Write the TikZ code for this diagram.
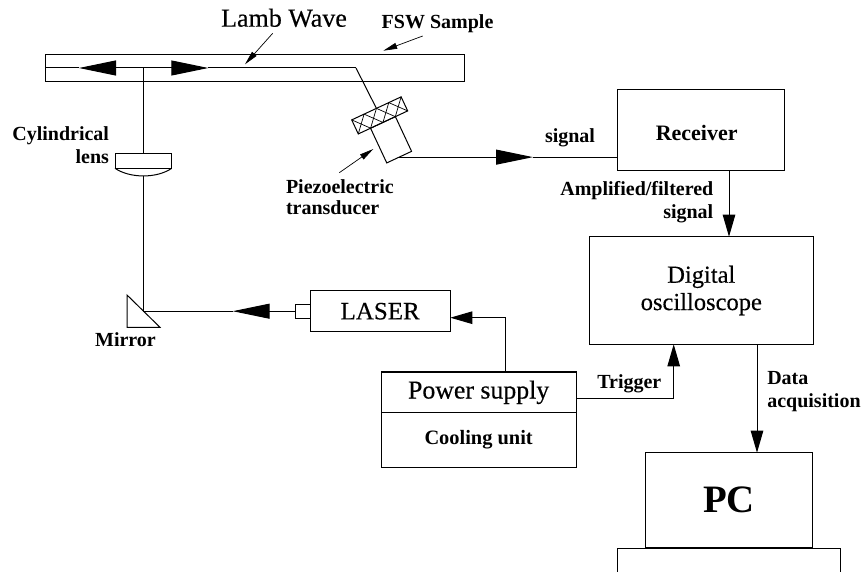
\documentclass[tikz,border=0pt]{standalone}
\usepackage{fontspec}
\setmainfont{Liberation Serif}
\newfontfamily\heavyfont[FakeBold=0.35]{Liberation Serif}
\usetikzlibrary{arrows.meta,calc,positioning}

\begin{document}
\begin{tikzpicture}
  [x=1pt,y=-1pt,line width=1pt,
   boxnode/.style={draw,rectangle,inner sep=0pt,outer sep=0pt,align=center},
   tiltnode/.style={boxnode,rotate=25},
   boldlabel/.style={inner sep=0pt,outer sep=0pt,font=\bfseries\fontsize{20}{23}\selectfont},
   beamtip/.style={-{Triangle[length=37pt,width=15pt]}},
   wiretip/.style={-{Triangle[length=22pt,width=12.5pt]}},
   pointtip/.style={line width=.7pt,-{Triangle[length=14pt,width=6pt]}}]
  \useasboundingbox (0,0) rectangle (863,572);

  % boxes
  \node[boxnode,minimum width=418.6pt,minimum height=27.4pt] (sample) at (255,68) {};
  \node[boxnode,minimum width=167pt,minimum height=81pt] (receiver) at (700.8,130.5) {};
  \node[boxnode,minimum width=223.7pt,minimum height=107.6pt,font=\heavyfont\fontsize{24.5}{27.3}\selectfont] (scope) at (701.3,290.5) {Digital\\oscilloscope};
  \node[boxnode,minimum width=140.3pt,minimum height=41pt,font=\heavyfont\fontsize{25}{28}\selectfont] (laser) at (380.15,311.2) {LASER};
  \node[boxnode,minimum width=14.3pt,minimum height=13.7pt,left=0pt of laser] (stub) {};
  \node[boxnode,minimum width=195.3pt,minimum height=40.7pt,font=\heavyfont\fontsize{25.8}{28}\selectfont] (power) at (478.65,392.35) {Power supply};
  \node[boxnode,minimum width=195.3pt,minimum height=54.6pt,below=0pt of power,font=\bfseries\fontsize{20.4}{23}\selectfont] (cooling) {Cooling unit};
  \node[boxnode,minimum width=166.6pt,minimum height=95.3pt,font=\bfseries\fontsize{38.8}{42}\selectfont] (pc) at (729,500.3) {PC};
  \node[boxnode,minimum width=56.7pt,minimum height=14.3pt] (lens) at (143.35,161.15) {};

  % transducer
  \node[tiltnode,minimum width=54.5pt,minimum height=15.5pt] (hatch) at (379.7,115.4) {};
  \node[tiltnode,minimum width=27.4pt,minimum height=38.3pt,anchor=north] (piezo) at (hatch.south) {};
  \foreach \a/\b in {0/.25,.25/0,.25/.5,.5/.25,.5/.75,.75/.5,.75/1,1/.75}
    \draw[line width=.7pt] ($(hatch.south west)!\a!(hatch.south east)$) -- ($(hatch.north west)!\b!(hatch.north east)$);

  % points on the paths
  \coordinate (split) at (143.35,68);
  \coordinate (lefttip) at (79,68);
  \coordinate (righttip) at (208.3,68);
  \coordinate (bend) at (356,68);
  \coordinate (lensend) at (143.35,176);
  \coordinate (mirrora) at (127,295);
  \coordinate (mirrorb) at (127,327.3);
  \coordinate (mirrorc) at (160,327.3);
  \coordinate (mirrorhit) at (143.35,311.2);
  \coordinate (lasertip) at (232.7,311.2);
  \coordinate (signaltip) at (533,0 |- piezo.south);
  \coordinate (signalend) at (receiver.west |- piezo.south);
  \coordinate (ampout) at (729,171);
  \coordinate (ampin) at (729,236.7);
  \coordinate (dataout) at (757,344.3);
  \coordinate (datain) at (757,452.7);
  \coordinate (trigout) at (576.3,398.7);
  \coordinate (trigin) at (673.7,344.3);
  \coordinate (powerout) at (505.7,372);
  \coordinate (powerin) at (450.3,317.7);

  % beam and wires
  \foreach \from/\to in {lefttip/sample.west,righttip/bend,bend/hatch.north,split/lens.north,lensend/mirrorhit,signaltip/signalend,lasertip/mirrorhit}
    \draw (\from) -- (\to);
  \foreach \from/\to in {split/lefttip,split/righttip,stub.west/lasertip,piezo.south/signaltip}
    \draw[beamtip] (\from) -- (\to);
  \foreach \from/\to in {ampout/ampin,dataout/datain}
    \draw[wiretip] (\from) -- (\to);
  \draw[wiretip] (powerout) |- (powerin);
  \draw[wiretip] (trigout) -| (trigin);

  % lens, mirror and the base under the PC
  \draw (lens.south west) .. controls (130,178.5) and (157,178.5) .. (lens.south east);
  \draw (mirrora) -- (mirrorb) -- (mirrorc) -- cycle;
  \draw (617.3,572) -- (617.3,548) -- (840.7,548) -- (840.7,572);

  % pointers
  \coordinate (lambfrom) at (272.7,33.3);
  \coordinate (lambto) at (245,64.3);
  \coordinate (fswfrom) at (422.7,36);
  \coordinate (fswto) at (383.3,50.7);
  \coordinate (piezofrom) at (339.3,172.7);
  \coordinate (piezoto) at (373.3,149);
  \foreach \from/\to in {lambfrom/lambto,fswfrom/fswto,piezofrom/piezoto}
    \draw[pointtip] (\from) -- (\to);

  % labels
  \node[inner sep=0pt,anchor=base,font=\heavyfont\fontsize{26}{28}\selectfont] (lamblabel) at (284,26.7) {Lamb Wave};
  \node[inner sep=0pt,anchor=base,font=\bfseries\fontsize{22}{25}\selectfont] (receiverlabel) at (696.7,141) {Receiver};
  \node[boldlabel,anchor=base west] (fswlabel) at (381.7,28.3) {FSW Sample};
  \node[boldlabel,anchor=base east] (cyllabel) at (109,140.7) {Cylindrical};
  \node[boldlabel,anchor=base east] (lenslabel) at (109,163.3) {lens};
  \node[boldlabel,anchor=base west] (piezolabel) at (286,193.3) {Piezoelectric};
  \node[boldlabel,anchor=base west] (translabel) at (286,215) {transducer};
  \node[boldlabel,anchor=base west] (signallabel) at (545,142.3) {signal};
  \node[boldlabel,anchor=base east] (amplabel) at (713.3,195.7) {Amplified/filtered};
  \node[boldlabel,anchor=base east] (amplabelb) at (713.3,218.3) {signal};
  \node[boldlabel,anchor=base] (mirrorlabel) at (125.5,346.7) {Mirror};
  \node[boldlabel,anchor=base west] (triglabel) at (597.3,388.3) {Trigger};
  \node[boldlabel,anchor=base west] (datalabel) at (767.3,384.3) {Data};
  \node[boldlabel,anchor=base west] (acqlabel) at (767.3,407.3) {acquisition};
\end{tikzpicture}
\end{document}
